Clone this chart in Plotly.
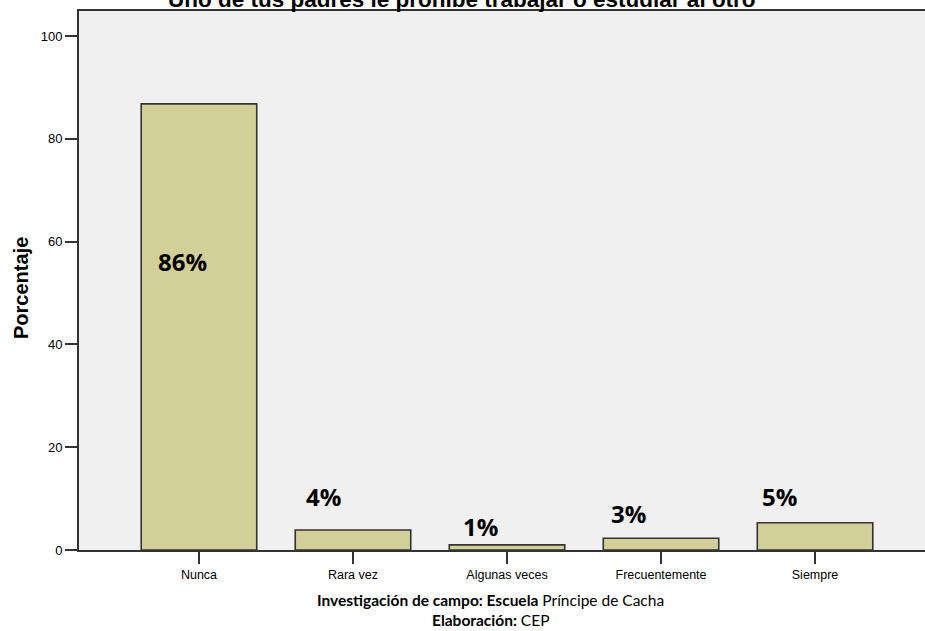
import plotly.graph_objects as go

categories = ["Nunca", "Rara vez", "Algunas veces", "Frecuentemente", "Siempre"]
values = [86.8, 3.9, 1.0, 2.3, 5.3]
label_texts = ["86%", "4%", "1%", "3%", "5%"]
y_ticks = [0, 20, 40, 60, 80, 100]

title_text = "Uno de tus padres le prohíbe trabajar o estudiar al otro"
footer_line1 = "<b>Investigación de campo: Escuela</b> Príncipe de Cacha"
footer_line2 = "<b>Elaboración:</b> CEP"

W, H = 925, 631
ML, MR, MT, MB = 79, 0, 11, 81
PH = H - MT - MB
PW = W - ML - MR

fig = go.Figure()
fig.add_trace(go.Bar(
    x=categories, y=values, width=0.75,
    marker=dict(color="#d3cf98", line=dict(color="#333333", width=1.6)),
    hoverinfo="skip",
))

# label offsets (pixels) relative to bar top
label_shifts = [(-16, -158), (-29, 33), (-27, 18), (-33, 25), (-36, 26)]
for cat, val, txt, (dx, dy) in zip(categories, values, label_texts, label_shifts):
    fig.add_annotation(x=cat, y=val, text="<b>" + txt + "</b>", showarrow=False,
                       xshift=dx, yshift=dy, xanchor="center", yanchor="middle",
                       font=dict(family="Open Sans", size=24, color="#000000"))

def py(px):
    return 1 - (px - MT) / PH

def pxx(px):
    return (px - ML) / PW

# title (clipped at top, as in the reference)
fig.add_annotation(xref="paper", yref="paper", x=pxx(462), y=py(0),
                   text="<b>" + title_text + "</b>", showarrow=False,
                   xanchor="center", yanchor="middle",
                   font=dict(family="Liberation Sans", size=22.5, color="#000000"))
# y axis title
fig.add_annotation(xref="paper", yref="paper", x=pxx(21), y=py(288),
                   text="<b>Porcentaje</b>", showarrow=False, textangle=-90,
                   xanchor="center", yanchor="middle",
                   font=dict(family="Liberation Sans", size=20, color="#000000"))
# footer
fig.add_annotation(xref="paper", yref="paper", x=pxx(490), y=py(600),
                   text=footer_line1, showarrow=False, xanchor="center", yanchor="middle",
                   font=dict(family="Lato", size=15.5, color="#000000"))
fig.add_annotation(xref="paper", yref="paper", x=pxx(491), y=py(620),
                   text=footer_line2, showarrow=False, xanchor="center", yanchor="middle",
                   font=dict(family="Lato", size=15.5, color="#000000"))

fig.update_layout(
    width=W, height=H,
    margin=dict(l=ML, r=MR, t=MT, b=MB, pad=0),
    paper_bgcolor="#ffffff", plot_bgcolor="#f0f0f0",
    showlegend=False, bargap=0.25,
    xaxis=dict(range=[-0.779, 4.714], showgrid=False, zeroline=False,
               showline=True, linecolor="#333333", linewidth=2, mirror=True,
               ticks="outside", ticklen=12, tickwidth=1.5, tickcolor="#333333",
               tickfont=dict(family="Liberation Sans", size=12.5, color="#000000"),
               fixedrange=True),
    yaxis=dict(range=[0, 104.86], tickvals=y_ticks, showgrid=False, zeroline=False,
               showline=True, linecolor="#333333", linewidth=2,
               ticks="outside", ticklen=12, tickwidth=1.5, tickcolor="#333333",
               tickfont=dict(family="Liberation Sans", size=13, color="#000000"),
               fixedrange=True),
)

fig.write_html("out.html")
